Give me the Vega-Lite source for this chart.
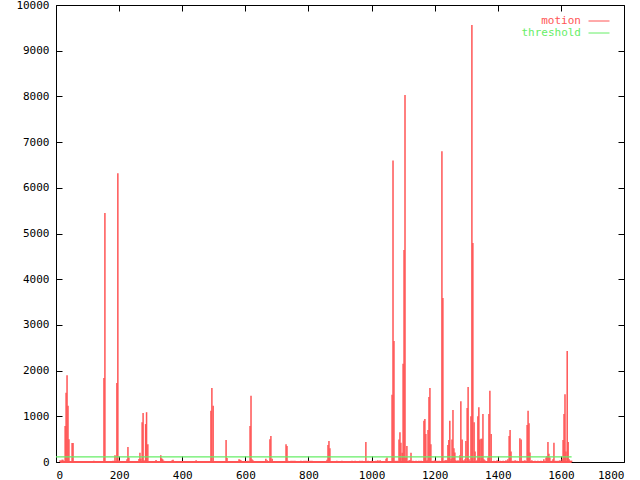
{
  "$schema": "https://vega.github.io/schema/vega-lite/v6.json",
  "width": 568,
  "height": 457,
  "autosize": {"type": "none"},
  "padding": {"left": 56, "top": 5, "right": 16, "bottom": 18},
  "background": "white",
  "config": {
    "view": {"stroke": "black", "strokeWidth": 1},
    "axis": {
      "labelFont": "DejaVu Sans Mono",
      "labelFontSize": 11,
      "labelColor": "black",
      "tickColor": "black",
      "tickSize": 6,
      "tickWidth": 1,
      "labelPadding": 7,
      "domain": false,
      "grid": false,
      "title": null,
      "format": "d"
    },
    "legend": {
      "labelFont": "DejaVu Sans Mono",
      "labelFontSize": 11
    }
  },
  "datasets": {
    "motion": [
      {"x": 13, "v": 40}, {"x": 19, "v": 50}, {"x": 22, "v": 50},
      {"x": 29, "v": 790}, {"x": 32, "v": 1516}, {"x": 35, "v": 1900}, {"x": 38, "v": 1232}, {"x": 41, "v": 500},
      {"x": 51, "v": 415}, {"x": 54, "v": 415},
      {"x": 120, "v": 30},
      {"x": 152, "v": 1840}, {"x": 155, "v": 5450},
      {"x": 181, "v": 30}, {"x": 187, "v": 150}, {"x": 193, "v": 1730}, {"x": 196, "v": 6320}, {"x": 200, "v": 40},
      {"x": 215, "v": 20}, {"x": 225, "v": 60}, {"x": 228, "v": 330}, {"x": 231, "v": 100},
      {"x": 263, "v": 65}, {"x": 266, "v": 200}, {"x": 269, "v": 70}, {"x": 273, "v": 870}, {"x": 276, "v": 1070}, {"x": 279, "v": 40},
      {"x": 284, "v": 830}, {"x": 287, "v": 1090}, {"x": 291, "v": 390},
      {"x": 317, "v": 45}, {"x": 332, "v": 150}, {"x": 335, "v": 80}, {"x": 338, "v": 60}, {"x": 341, "v": 30},
      {"x": 368, "v": 40}, {"x": 371, "v": 50}, {"x": 383, "v": 20}, {"x": 444, "v": 40},
      {"x": 491, "v": 1120}, {"x": 494, "v": 1620}, {"x": 498, "v": 1230},
      {"x": 539, "v": 480}, {"x": 542, "v": 90},
      {"x": 580, "v": 60}, {"x": 583, "v": 50}, {"x": 586, "v": 40}, {"x": 608, "v": 30},
      {"x": 615, "v": 790}, {"x": 618, "v": 1450}, {"x": 621, "v": 60}, {"x": 624, "v": 40},
      {"x": 665, "v": 70}, {"x": 669, "v": 40}, {"x": 678, "v": 500}, {"x": 681, "v": 570}, {"x": 685, "v": 70},
      {"x": 729, "v": 390}, {"x": 732, "v": 350}, {"x": 735, "v": 30},
      {"x": 745, "v": 30}, {"x": 751, "v": 30}, {"x": 757, "v": 30}, {"x": 776, "v": 30}, {"x": 786, "v": 30},
      {"x": 792, "v": 30}, {"x": 799, "v": 30}, {"x": 805, "v": 30}, {"x": 811, "v": 30},
      {"x": 859, "v": 50}, {"x": 862, "v": 370}, {"x": 865, "v": 460}, {"x": 868, "v": 300},
      {"x": 890, "v": 30}, {"x": 906, "v": 30}, {"x": 938, "v": 30}, {"x": 948, "v": 30}, {"x": 963, "v": 30}, {"x": 970, "v": 30},
      {"x": 982, "v": 440},
      {"x": 989, "v": 30}, {"x": 1001, "v": 30}, {"x": 1014, "v": 30}, {"x": 1020, "v": 40}, {"x": 1027, "v": 40},
      {"x": 1046, "v": 70}, {"x": 1049, "v": 100},
      {"x": 1065, "v": 1470}, {"x": 1068, "v": 6600}, {"x": 1071, "v": 2650}, {"x": 1074, "v": 30}, {"x": 1081, "v": 30},
      {"x": 1087, "v": 490}, {"x": 1090, "v": 650}, {"x": 1093, "v": 420}, {"x": 1097, "v": 200},
      {"x": 1100, "v": 2150}, {"x": 1103, "v": 4640}, {"x": 1106, "v": 8030}, {"x": 1109, "v": 100}, {"x": 1112, "v": 350},
      {"x": 1119, "v": 40}, {"x": 1122, "v": 40}, {"x": 1125, "v": 200},
      {"x": 1131, "v": 30}, {"x": 1141, "v": 30}, {"x": 1150, "v": 30}, {"x": 1157, "v": 30},
      {"x": 1166, "v": 900}, {"x": 1169, "v": 940}, {"x": 1172, "v": 610}, {"x": 1176, "v": 40},
      {"x": 1179, "v": 700}, {"x": 1182, "v": 1420}, {"x": 1185, "v": 1620}, {"x": 1188, "v": 390},
      {"x": 1195, "v": 30}, {"x": 1201, "v": 40}, {"x": 1207, "v": 30}, {"x": 1214, "v": 30},
      {"x": 1223, "v": 6800}, {"x": 1226, "v": 3590},
      {"x": 1233, "v": 40}, {"x": 1236, "v": 40}, {"x": 1239, "v": 40},
      {"x": 1242, "v": 370}, {"x": 1245, "v": 480}, {"x": 1248, "v": 900}, {"x": 1252, "v": 70},
      {"x": 1255, "v": 490}, {"x": 1258, "v": 1140}, {"x": 1261, "v": 300}, {"x": 1264, "v": 210}, {"x": 1267, "v": 40},
      {"x": 1274, "v": 40}, {"x": 1280, "v": 150}, {"x": 1283, "v": 1330}, {"x": 1287, "v": 490}, {"x": 1290, "v": 40},
      {"x": 1296, "v": 60}, {"x": 1299, "v": 460}, {"x": 1303, "v": 1180}, {"x": 1306, "v": 1640}, {"x": 1309, "v": 60},
      {"x": 1315, "v": 1000}, {"x": 1318, "v": 9560}, {"x": 1321, "v": 4790}, {"x": 1325, "v": 870}, {"x": 1328, "v": 230},
      {"x": 1334, "v": 40}, {"x": 1337, "v": 1000}, {"x": 1340, "v": 1200}, {"x": 1343, "v": 490}, {"x": 1347, "v": 510},
      {"x": 1350, "v": 510}, {"x": 1353, "v": 1050}, {"x": 1356, "v": 60}, {"x": 1359, "v": 40},
      {"x": 1369, "v": 100}, {"x": 1372, "v": 1050}, {"x": 1375, "v": 1560}, {"x": 1379, "v": 610},
      {"x": 1388, "v": 30}, {"x": 1398, "v": 40}, {"x": 1407, "v": 30}, {"x": 1417, "v": 30}, {"x": 1426, "v": 40}, {"x": 1432, "v": 60},
      {"x": 1436, "v": 570}, {"x": 1439, "v": 700}, {"x": 1442, "v": 230},
      {"x": 1448, "v": 30}, {"x": 1455, "v": 40}, {"x": 1461, "v": 30},
      {"x": 1470, "v": 520}, {"x": 1474, "v": 490},
      {"x": 1480, "v": 30}, {"x": 1486, "v": 40},
      {"x": 1493, "v": 810}, {"x": 1496, "v": 1120}, {"x": 1499, "v": 850}, {"x": 1502, "v": 210},
      {"x": 1508, "v": 40}, {"x": 1518, "v": 30}, {"x": 1527, "v": 30}, {"x": 1537, "v": 30}, {"x": 1546, "v": 60},
      {"x": 1553, "v": 100}, {"x": 1556, "v": 130}, {"x": 1559, "v": 440}, {"x": 1562, "v": 180}, {"x": 1565, "v": 100},
      {"x": 1572, "v": 30}, {"x": 1575, "v": 60}, {"x": 1578, "v": 420},
      {"x": 1584, "v": 30}, {"x": 1591, "v": 30}, {"x": 1597, "v": 40}, {"x": 1604, "v": 60},
      {"x": 1607, "v": 480}, {"x": 1610, "v": 1050}, {"x": 1613, "v": 1480}, {"x": 1616, "v": 230},
      {"x": 1620, "v": 2430}, {"x": 1623, "v": 440}, {"x": 1626, "v": 60}, {"x": 1630, "v": 30}, {"x": 1634, "v": 30}
    ],
    "threshold": [
      {"x": 0, "v": 110},
      {"x": 1634, "v": 110}
    ]
  },
  "layer": [
    {
      "data": {"name": "motion"},
      "mark": {"type": "rule", "strokeWidth": 1.5},
      "encoding": {
        "x": {
          "field": "x", "type": "quantitative",
          "scale": {"domain": [0, 1800], "nice": false, "zero": false},
          "axis": {"orient": "bottom", "ticks": false, "tickCount": 9}
        },
        "y": {
          "field": "v", "type": "quantitative",
          "scale": {"domain": [0, 10000], "nice": false},
          "axis": {"orient": "left", "ticks": false, "tickCount": 10}
        },
        "y2": {"datum": 0},
        "color": {
          "datum": "motion",
          "scale": {"domain": ["motion", "threshold"], "range": ["#ff5555", "#66ee66"]},
          "legend": {
            "orient": "none",
            "legendX": 537,
            "legendY": 10,
            "padding": 0,
            "title": null,
            "symbolType": "M-2,0H2",
            "symbolSize": 110,
            "symbolStrokeWidth": 1,
            "labelAlign": "right",
            "labelOffset": -24,
            "rowPadding": 1,
            "encode": {
              "labels": {"update": {"fill": {"signal": "scale('color', datum.value)"}}},
              "symbols": {"update": {"stroke": {"signal": "scale('color', datum.value)"}, "fill": {"value": "transparent"}}}
            }
          }
        }
      }
    },
    {
      "data": {"name": "motion"},
      "transform": [
        {"aggregate": [{"op": "min", "field": "x", "as": "x0"}, {"op": "max", "field": "x", "as": "x1"}]}
      ],
      "mark": {"type": "rule", "strokeWidth": 2, "color": "#ff5555"},
      "encoding": {
        "x": {"field": "x0", "type": "quantitative", "axis": null},
        "x2": {"field": "x1"},
        "y": {"datum": 0, "type": "quantitative", "axis": null}
      }
    },
    {
      "data": {"name": "threshold"},
      "mark": {"type": "line", "strokeWidth": 1.2},
      "encoding": {
        "x": {"field": "x", "type": "quantitative", "axis": null},
        "y": {"field": "v", "type": "quantitative", "axis": null},
        "color": {"datum": "threshold"}
      }
    },
    {
      "data": {"name": "threshold"},
      "mark": {"type": "rule", "opacity": 0},
      "encoding": {
        "x": {"field": "x", "type": "quantitative", "axis": {"orient": "top", "offset": -6, "labels": false, "tickCount": 9}},
        "y": {"field": "v", "type": "quantitative", "axis": {"orient": "right", "offset": -6, "labels": false, "tickCount": 10}}
      }
    },
    {
      "data": {"name": "threshold"},
      "mark": {"type": "rule", "opacity": 0},
      "encoding": {
        "x": {"field": "x", "type": "quantitative", "axis": {"orient": "bottom", "offset": -6, "labels": false, "tickCount": 9}},
        "y": {"field": "v", "type": "quantitative", "axis": {"orient": "left", "offset": -6, "labels": false, "tickCount": 10}}
      }
    }
  ],
  "resolve": {"axis": {"x": "independent", "y": "independent"}}
}
